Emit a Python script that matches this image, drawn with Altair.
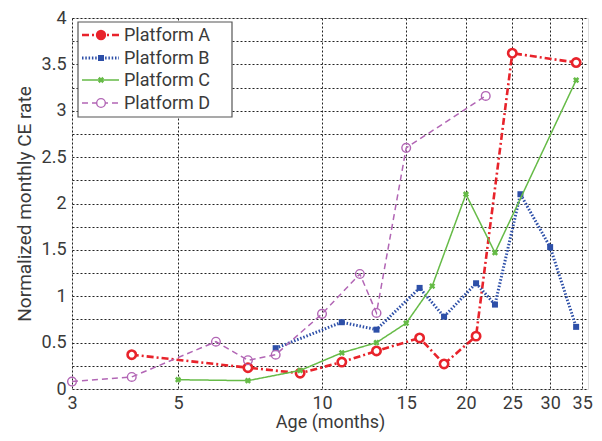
import altair as alt
import pandas as pd

# ---- data ----
series_names = ["Platform A", "Platform B", "Platform C", "Platform D"]

a_age = [4, 7, 9, 11, 13, 16, 18, 21, 25, 34]
a_rate = [0.37, 0.23, 0.17, 0.29, 0.41, 0.55, 0.27, 0.57, 3.62, 3.52]

b_age = [8, 11, 13, 16, 18, 21, 23, 26, 30, 34]
b_rate = [0.44, 0.72, 0.64, 1.09, 0.78, 1.14, 0.91, 2.10, 1.53, 0.67]

c_age = [5, 7, 9, 11, 13, 15, 17, 20, 23, 34]
c_rate = [0.10, 0.09, 0.20, 0.39, 0.50, 0.71, 1.11, 2.10, 1.47, 3.33]

d_age = [3, 4, 6, 7, 8, 10, 12, 13, 15, 22]
d_rate = [0.08, 0.13, 0.51, 0.31, 0.37, 0.81, 1.24, 0.82, 2.60, 3.16]

x_ticks = [3, 5, 10, 15, 20, 25, 30, 35]
y_grid = [0, 0.25, 0.5, 0.75, 1, 1.25, 1.5, 1.75, 2, 2.25, 2.5, 2.75, 3, 3.25, 3.5, 3.75, 4]

ages = [a_age, b_age, c_age, d_age]
rates = [a_rate, b_rate, c_rate, d_rate]

# ---- styles ----
colors = ["#e8232b", "#2d4fa8", "#66bb47", "#b266b5"]
dashes = [[7, 3, 2, 3], [1.5, 1.8], [1, 0], [6, 4]]
widths = [2.6, 3.0, 1.5, 1.5]
FONT = "Roboto"
TXT = "#3a3a3a"

x_scale = alt.Scale(type="log", domain=[3, 36], nice=False)
y_scale = alt.Scale(domain=[0, 4], nice=False)

x_axis = alt.Axis(values=x_ticks, format="d", title="Age (months)",
                  grid=True, gridColor="#222", gridDash=[2, 2], gridWidth=1,
                  ticks=False, labelPadding=5, labelFontSize=18, labelColor=TXT,
                  labelFont=FONT, titleFont=FONT, titleFontSize=18, titleColor=TXT,
                  titleFontWeight="normal", titlePadding=1, domain=False,
                  labelFlush=False, zindex=0)
y_axis = alt.Axis(values=y_grid, title="Normalized monthly CE rate",
                  labelExpr="datum.value % 0.5 == 0 ? format(datum.value, '~g') : ''",
                  grid=True, gridColor="#222", gridDash=[2, 2], gridWidth=1,
                  ticks=False, labelPadding=6, labelFontSize=18, labelColor=TXT,
                  labelFont=FONT, titleFont=FONT, titleFontSize=19, titleColor=TXT,
                  titleFontWeight="normal", titlePadding=7, domain=False,
                  labelFlush=False, zindex=0)

enc_x = alt.X("age:Q", scale=x_scale, axis=x_axis)
enc_y = alt.Y("rate:Q", scale=y_scale, axis=y_axis)

layers = []
legend_rows = [17, 40, 62, 85]
for i, name in enumerate(series_names):
    df = pd.DataFrame({"age": ages[i], "rate": rates[i], "series": name})
    base = alt.Chart(df)
    line = base.mark_line(color=colors[i], strokeDash=dashes[i],
                          strokeWidth=widths[i]).encode(x=enc_x, y=enc_y)
    if i == 0:
        pts = base.mark_point(shape="circle", size=70, filled=True, fill="white",
                              stroke=colors[i], strokeWidth=2.6, opacity=1)
    elif i == 1:
        pts = base.mark_point(shape="square", size=36, filled=True,
                              color=colors[i], opacity=1)
    elif i == 2:
        pts = base.mark_point(shape="cross", angle=45, size=40, filled=True,
                              color=colors[i], opacity=1)
    else:
        pts = base.mark_point(shape="circle", size=75, filled=False,
                              color=colors[i], strokeWidth=1.4, opacity=1)
    pts = pts.encode(x=enc_x, y=enc_y)
    layers += [line, pts]

# ---- legend (drawn inside the plot, top-left) ----
leg_df = pd.DataFrame({"series": [series_names[0]]})
box = alt.Chart(leg_df).mark_rect(fill="white", stroke="#555", strokeWidth=1.2,
                                  opacity=1).encode(
    x=alt.value(6), x2=alt.value(160), y=alt.value(4), y2=alt.value(99))
layers.append(box)
for i, name in enumerate(series_names):
    one = alt.Chart(pd.DataFrame({"series": [name]}))
    yv = legend_rows[i]
    layers.append(one.mark_rule(color=colors[i], strokeDash=dashes[i],
                                strokeWidth=widths[i]).encode(
        x=alt.value(10), x2=alt.value(47), y=alt.value(yv)))
    if i == 0:
        m = one.mark_point(shape="circle", size=70, filled=True, fill=colors[i],
                           stroke=colors[i], strokeWidth=2, opacity=1)
    elif i == 1:
        m = one.mark_point(shape="square", size=36, filled=True, color=colors[i], opacity=1)
    elif i == 2:
        m = one.mark_point(shape="cross", angle=45, size=40, filled=True,
                           color=colors[i], opacity=1)
    else:
        m = one.mark_point(shape="circle", size=75, filled=True, fill="white",
                           stroke=colors[i], strokeWidth=1.4, opacity=1)
    layers.append(m.encode(x=alt.value(29), y=alt.value(yv)))
    layers.append(one.mark_text(align="left", baseline="middle", font=FONT,
                                fontSize=18, color=TXT).encode(
        x=alt.value(52), y=alt.value(yv + 1), text="series:N"))

chart = alt.layer(*layers).properties(
    width=516, height=371,
    autosize=alt.AutoSizeParams(type="none"),
    padding={"left": 64, "top": 10, "right": 6, "bottom": 44},
).configure_view(stroke="#777", strokeWidth=1.5).configure(background="white")

chart.save("out.html", embed_options={"renderer": "svg", "actions": False})
